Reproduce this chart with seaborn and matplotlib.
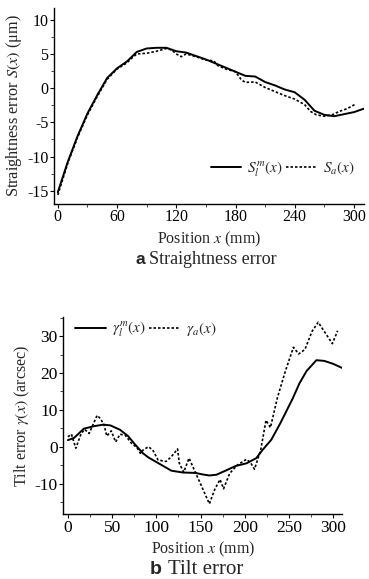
import numpy as np
import pandas as pd
import matplotlib
matplotlib.use("Agg")
import matplotlib.pyplot as plt
from matplotlib.ticker import MultipleLocator
import seaborn as sns

# Straightness error (um)
s_x = [0, 10, 20, 30, 40, 50, 60, 70, 80, 90, 100, 110, 120, 130, 140, 150, 160, 170,
       180, 190, 200, 210, 220, 230, 240, 250, 260, 270, 280, 290, 300, 310]
s_model = [-15.2, -10.8, -7.0, -3.7, -1.0, 1.5, 2.9, 3.9, 5.3, 5.8, 5.9, 5.9, 5.4, 5.2,
           4.7, 4.2, 3.6, 3.0, 2.4, 1.8, 1.7, 0.9, 0.4, -0.2, -0.6, -1.7, -3.3, -3.9,
           -4.1, -3.8, -3.5, -3.0]
sa_x = [0, 10, 20, 30, 40, 50, 60, 70, 75, 80, 90, 100, 110, 115, 120, 125, 130, 140,
        150, 158, 162, 170, 180, 186, 190, 200, 210, 220, 230, 240, 250, 256, 262, 270,
        278, 285, 293, 302]
s_meas = [-15.6, -11.0, -7.2, -3.9, -1.2, 1.3, 2.8, 3.7, 4.4, 5.0, 5.1, 5.4, 5.8, 5.6,
          5.0, 4.6, 5.0, 4.6, 4.1, 4.0, 3.3, 2.8, 2.4, 1.2, 0.85, 0.9, 0.1, -0.5, -1.1,
          -1.6, -2.4, -3.4, -3.9, -4.1, -3.9, -3.4, -3.0, -2.3]

# Tilt error (arcsec)
g_x = [0, 7, 18, 30, 40, 48, 59, 68, 76, 85, 91, 104, 117, 130, 144, 152, 160, 168,
       180, 190, 202, 213, 220, 230, 240, 254, 262, 270, 281, 290, 300, 310]
g_model = [1.8, 2.4, 4.9, 5.6, 6.0, 5.8, 4.6, 2.9, 0.6, -1.8, -2.9, -4.7, -6.5, -7.0,
           -7.1, -7.5, -7.8, -7.6, -6.3, -5.2, -4.5, -3.1, -0.9, 1.9, 6.3, 13.0, 17.3,
           20.6, 23.5, 23.3, 22.5, 21.4]
ga_x = [0, 4, 9, 15, 19, 24, 33, 37, 41, 44, 49, 54, 59, 65, 72, 78, 82, 85, 91, 96,
        102, 111, 117, 124, 126, 131, 137, 160, 166, 172, 176, 183, 192, 202, 207, 211,
        218, 224, 229, 237, 246, 255, 261, 268, 276, 283, 291, 299, 305]
g_meas = [2.7, 3.4, -0.4, 3.6, 4.7, 3.6, 8.5, 7.6, 5.8, 2.9, 4.3, 1.3, 3.4, 3.1, 0.9,
          -0.2, -1.8, -0.9, 0.0, -0.9, -3.6, -4.0, -2.7, -0.6, -4.5, -6.9, -3.1, -15.5,
          -11.6, -8.9, -11.4, -7.2, -4.9, -3.4, -4.5, -6.1, -0.9, 7.2, 5.2, 13.4, 20.6,
          27.0, 25.2, 26.4, 31.3, 33.8, 30.9, 28.0, 31.5]

sns.set_style("ticks")
plt.rcParams['font.family'] = ['Liberation Serif', 'DejaVu Serif']
plt.rcParams['mathtext.fontset'] = 'stix'
plt.rcParams['axes.unicode_minus'] = False
plt.rcParams['axes.linewidth'] = 1.0

fig = plt.figure(figsize=(3.69, 5.79), dpi=100)
ax1 = fig.add_axes([0.146, 0.648, 0.84, 0.338])
ax2 = fig.add_axes([0.172, 0.112, 0.755, 0.341])


def style_axis(ax, size):
    sns.despine(ax=ax)
    ax.tick_params(which='major', direction='out', length=3, width=0.8,
                   labelsize=size, pad=1, colors='black')
    ax.tick_params(which='minor', direction='out', length=2, width=0.6)
    for s in ax.spines.values():
        s.set_color('black')


leg_kw = dict(ncol=2, frameon=False, fontsize=11, handlelength=2.0,
              handletextpad=0.4, columnspacing=0.2, borderpad=0.1)

# panel a
sns.lineplot(x=s_x, y=s_model, ax=ax1, color='black', linewidth=1.4,
             label=r'$S_l^{m}(x)$')
sns.lineplot(x=sa_x, y=s_meas, ax=ax1, color='black', linewidth=1.2,
             linestyle=(0, (1.5, 1.2)), label=r'$S_a(x)$')
ax1.set_xlim(-4, 310)
ax1.set_ylim(-16.9, 11.7)
ax1.set_xticks([0, 60, 120, 180, 240, 300])
ax1.set_yticks([-15, -10, -5, 0, 5, 10])
ax1.xaxis.set_minor_locator(MultipleLocator(30))
ax1.yaxis.set_minor_locator(MultipleLocator(2.5))
ax1.set_xlabel(r'Position $x$ (mm)', fontsize=11.5, labelpad=3)
ax1.set_ylabel(r'Straightness error $S(x)$ (μm)', fontsize=11.7, labelpad=2)
style_axis(ax1, 11.5)
ax1.legend(loc='lower right', bbox_to_anchor=(1.0, 0.08), **leg_kw)

# panel b
sns.lineplot(x=g_x, y=g_model, ax=ax2, color='black', linewidth=1.4,
             label=r'$\gamma_l^{m}(x)$')
sns.lineplot(x=ga_x, y=g_meas, ax=ax2, color='black', linewidth=1.2,
             linestyle=(0, (1.5, 1.2)), label=r'$\gamma_a(x)$')
ax2.set_xlim(-5, 310)
ax2.set_ylim(-18.3, 35.3)
ax2.set_xticks([0, 50, 100, 150, 200, 250, 300])
ax2.set_yticks([-10, 0, 10, 20, 30])
ax2.xaxis.set_minor_locator(MultipleLocator(25))
ax2.yaxis.set_minor_locator(MultipleLocator(5))
ax2.set_xlabel(r'Position $x$ (mm)', fontsize=11.5, labelpad=3)
ax2.set_ylabel(r'Tilt error $\gamma(x)$ (arcsec)', fontsize=11.5, labelpad=2)
style_axis(ax2, 12.5)
ax2.legend(loc='upper left', bbox_to_anchor=(0.01, 1.03), **leg_kw)

# captions
fig.text(0.367, 0.551, 'a', fontsize=12.5, fontweight='bold',
         family=['Liberation Sans'], va='center', ha='left')
fig.text(0.405, 0.551, 'Straightness error', fontsize=13, va='center', ha='left')
fig.text(0.405, 0.017, 'b', fontsize=14, fontweight='bold',
         family=['Liberation Sans'], va='center', ha='left')
fig.text(0.455, 0.017, 'Tilt error', fontsize=15, va='center', ha='left')

fig.savefig('out.png', dpi=100)
